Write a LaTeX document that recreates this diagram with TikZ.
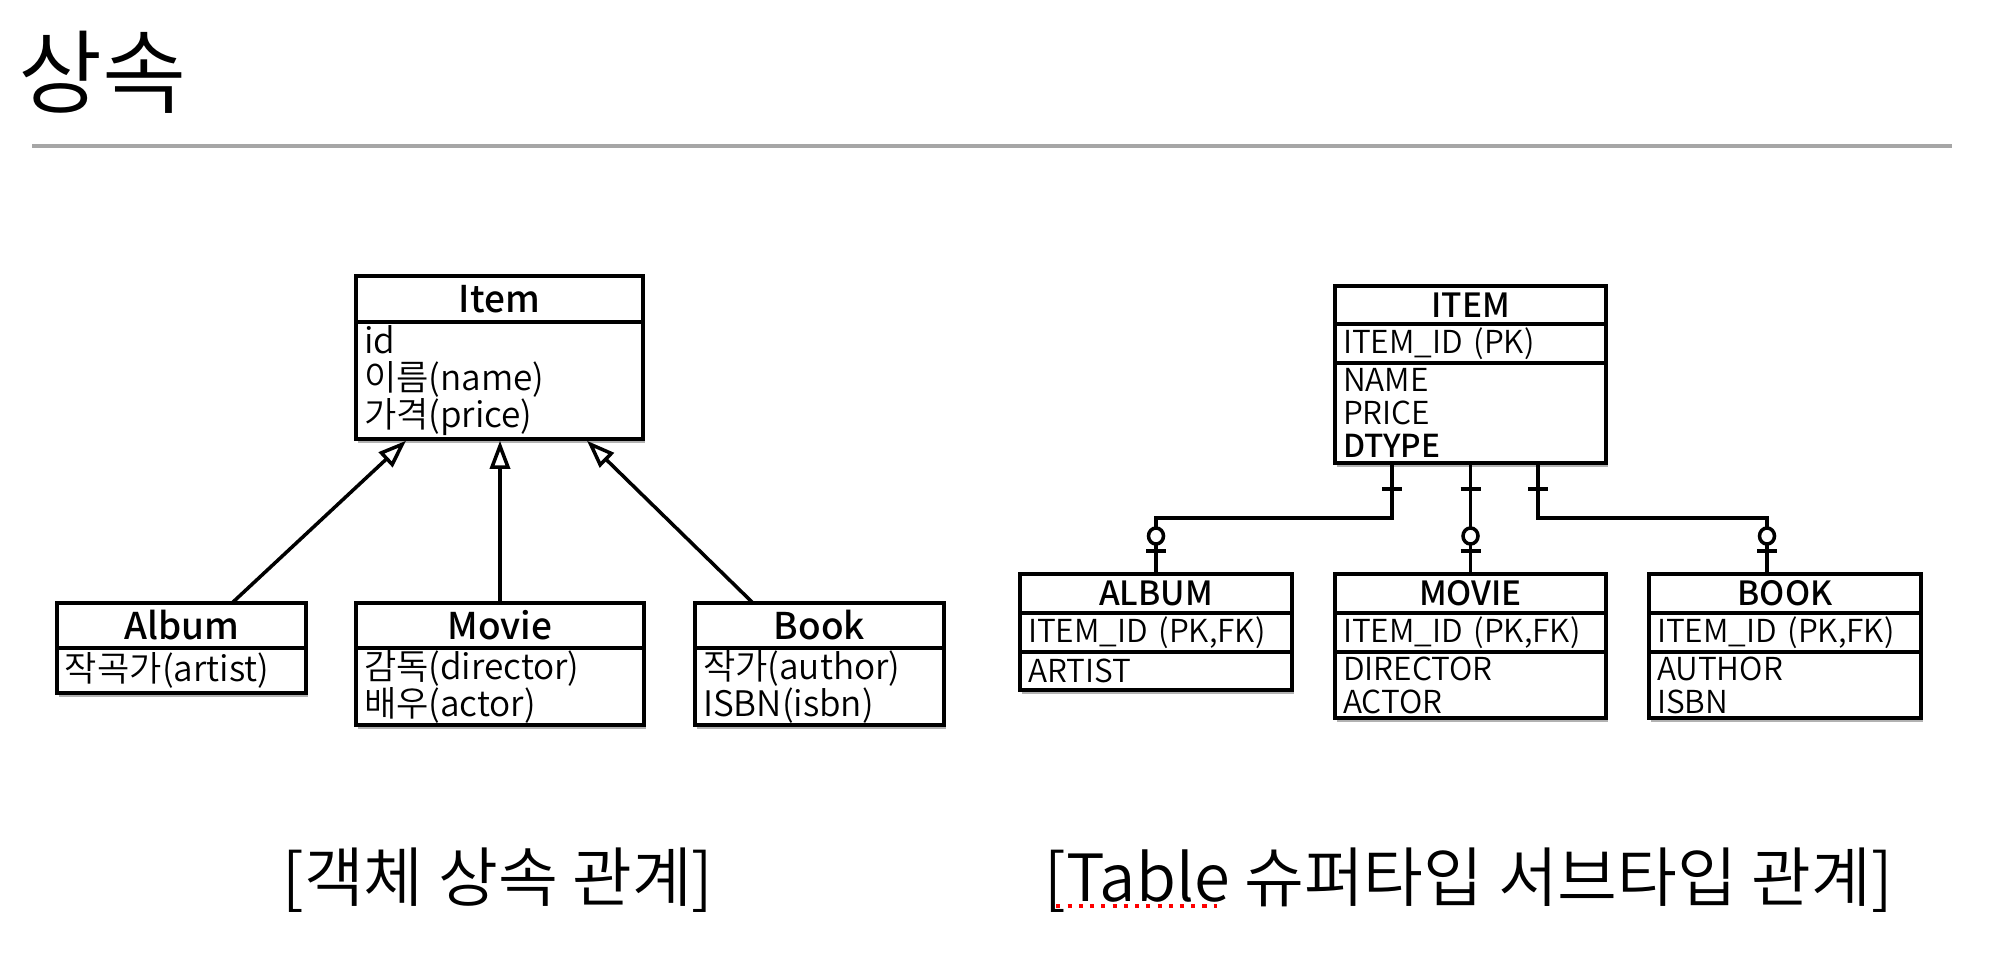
\documentclass[tikz,border=0pt]{standalone}
\usepackage{fontspec}
\setmainfont{Noto Sans CJK KR DemiLight}[BoldFont = {Noto Sans CJK KR Medium}]
\usetikzlibrary{positioning}
\usetikzlibrary{arrows.meta}
\usetikzlibrary{shadows}

\begin{document}
\begin{tikzpicture}[
	boxshadow/.style = {drop shadow = {shadow xshift = 0.5pt, shadow yshift = -1.2pt, opacity = 0.3, fill = black}},
	classhead/.style = {draw = black, line width = 1pt, fill = white, boxshadow, inner sep = 0pt, outer sep = 0pt, minimum width = #1, font = \bfseries\fontsize{10.5}{12}\selectfont},
	classbody/.style = {draw = black, line width = 1pt, fill = white, boxshadow, inner xsep = 0.08cm, inner ysep = 0pt, outer sep = 0pt, text width = #1, align = left, font = \fontsize{10}{10.5}\selectfont},
	tablehead/.style = {classhead = #1, minimum height = 0.39cm, font = \bfseries\fontsize{9.5}{11}\selectfont},
	tablebody/.style = {classbody = #1, font = \fontsize{9}{9.4}\selectfont},
	inherit/.style = {black, line width = 1pt, -{Triangle[open, length = 2.8mm, width = 2mm]}},
	relation/.style = {black, line width = 1pt},
	caption/.style = {inner sep = 0pt, font = \fontsize{18.5}{22}\selectfont},
]
					\useasboundingbox (0, 0) rectangle (20, -9.52);
					% title
					\node[anchor = west, font = \fontsize{26}{31}\selectfont] (title) at (0.06, -0.72) {상속};
					\draw[black!35, line width = 1.2pt] (0.32, -1.46)--(19.52, -1.46);
					% object inheritance
					\node[classhead = 2.87cm, minimum height = 0.46cm] (item) at (4.995, -2.99) {Item};
					\node[classbody = 2.71cm, minimum height = 1.17cm, below = 0pt of item] (itemattr) {id\\이름(name)\\가격(price)};
					\node[classhead = 2.49cm, minimum height = 0.45cm] (album) at (1.815, -6.255) {Album};
					\node[classbody = 2.33cm, minimum height = 0.45cm, below = 0pt of album] (albumattr) {작곡가(artist)};
					\node[classhead = 2.88cm, minimum height = 0.45cm] (movie) at (5.0, -6.255) {Movie};
					\node[classbody = 2.72cm, minimum height = 0.77cm, below = 0pt of movie] (movieattr) {감독(director)\\배우(actor)};
					\node[classhead = 2.49cm, minimum height = 0.45cm] (book) at (8.195, -6.255) {Book};
					\node[classbody = 2.33cm, minimum height = 0.77cm, below = 0pt of book] (bookattr) {작가(author)\\ISBN(isbn)};
					\draw[inherit] ([xshift = 0.505cm]album.north)--([xshift = -0.935cm, yshift = -0.5pt]itemattr.south);
					\draw[inherit] (movie.north)--([yshift = -0.5pt]movie.north |- itemattr.south);
					\draw[inherit] ([xshift = -0.665cm]book.north)--([xshift = 0.875cm, yshift = -0.5pt]itemattr.south);
					\node[caption] (leftcap) at (4.98, -8.8) {[객체 상속 관계]};
					% super type / sub type tables
					\node[tablehead = 2.71cm, minimum height = 0.38cm] (ITEM) at (14.705, -3.05) {ITEM};
					\node[tablebody = 2.55cm, minimum height = 0.39cm, below = 0pt of ITEM] (ITEMkey) {ITEM\_ID (PK)};
					\node[tablebody = 2.55cm, minimum height = 1.0cm, below = 0pt of ITEMkey] (ITEMcols) {NAME\\PRICE\\\textbf{DTYPE}};
					\node[tablehead = 2.72cm] (ALBUM) at (11.56, -5.935) {ALBUM};
					\node[tablebody = 2.56cm, minimum height = 0.39cm, below = 0pt of ALBUM] (ALBUMkey) {ITEM\_ID (PK,FK)};
					\node[tablebody = 2.56cm, minimum height = 0.38cm, below = 0pt of ALBUMkey] (ALBUMcols) {ARTIST};
					\node[tablehead = 2.71cm] (MOVIE) at (14.705, -5.935) {MOVIE};
					\node[tablebody = 2.55cm, minimum height = 0.39cm, below = 0pt of MOVIE] (MOVIEkey) {ITEM\_ID (PK,FK)};
					\node[tablebody = 2.55cm, minimum height = 0.66cm, below = 0pt of MOVIEkey] (MOVIEcols) {DIRECTOR\\ACTOR};
					\node[tablehead = 2.72cm] (BOOK) at (17.85, -5.935) {BOOK};
					\node[tablebody = 2.56cm, minimum height = 0.39cm, below = 0pt of BOOK] (BOOKkey) {ITEM\_ID (PK,FK)};
					\node[tablebody = 2.56cm, minimum height = 0.66cm, below = 0pt of BOOKkey] (BOOKcols) {AUTHOR\\ISBN};
					\draw[relation] ([xshift = -0.785cm]ITEMcols.south)--++(0, -0.55) -| (ALBUM.north);
					\draw[relation] (ITEMcols.south)--(MOVIE.north);
					\draw[relation] ([xshift = 0.675cm]ITEMcols.south)--++(0, -0.55) -| ([xshift = -0.18cm]BOOK.north);
					\draw[relation] ([xshift = -0.885cm, yshift = -0.26cm]ITEMcols.south)--++(0.2, 0);
					\draw[relation] ([xshift = -0.1cm, yshift = -0.26cm]ITEMcols.south)--++(0.2, 0);
					\draw[relation] ([xshift = 0.575cm, yshift = -0.26cm]ITEMcols.south)--++(0.2, 0);
					\draw[relation, fill = white] ([yshift = 0.38cm]ALBUM.north) ellipse [x radius = 0.075, y radius = 0.08];
					\draw[relation, fill = white] ([yshift = 0.38cm]MOVIE.north) ellipse [x radius = 0.075, y radius = 0.08];
					\draw[relation, fill = white] ([xshift = -0.18cm, yshift = 0.38cm]BOOK.north) ellipse [x radius = 0.075, y radius = 0.08];
					\draw[relation] ([xshift = -0.1cm, yshift = 0.23cm]ALBUM.north)--++(0.2, 0);
					\draw[relation] ([xshift = -0.1cm, yshift = 0.23cm]MOVIE.north)--++(0.2, 0);
					\draw[relation] ([xshift = -0.28cm, yshift = 0.23cm]BOOK.north)--++(0.2, 0);
					\node[caption] (rightcap) at (14.69, -8.8) {[Table 슈퍼타입 서브타입 관계]};
					\draw[red, dotted, line width = 1.2pt] ([xshift = 0.12cm, yshift = -0.26cm]rightcap.west)--++(1.61, 0);
				\end{tikzpicture}
\end{document}
